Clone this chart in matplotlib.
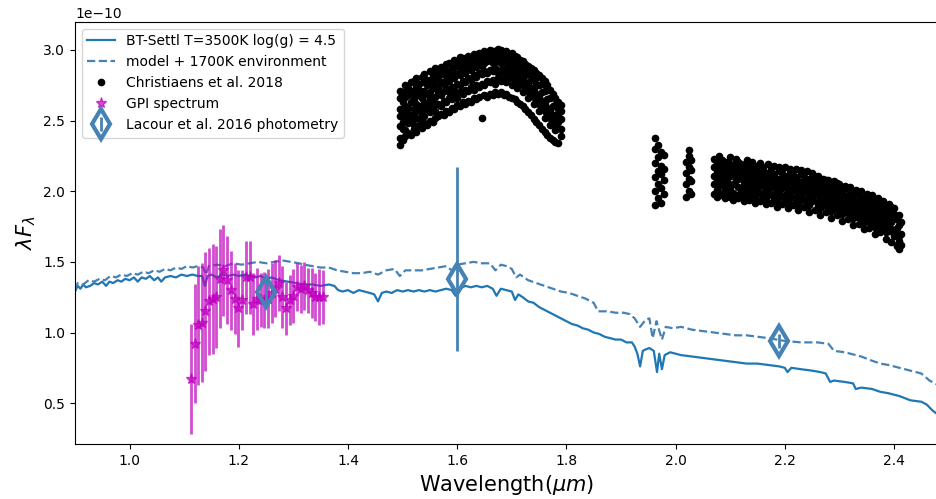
import matplotlib
matplotlib.use('Agg')
import matplotlib.pyplot as plt

# BT-Settl model spectrum (lambda F_lambda, units of 1e-10)
model_wl = [0.900, 0.905, 0.910, 0.915, 0.920, 0.928, 0.935, 0.942, 0.950, 0.957,
            0.963, 0.970, 0.978, 0.985, 0.992, 1.000, 1.008, 1.015, 1.022, 1.030,
            1.037, 1.045, 1.052, 1.058, 1.065, 1.075, 1.085, 1.095, 1.105, 1.115,
            1.125, 1.133, 1.138, 1.143, 1.150, 1.160, 1.170, 1.180, 1.190, 1.200,
            1.210, 1.220, 1.230, 1.240, 1.250, 1.260, 1.275, 1.290, 1.305, 1.320,
            1.335, 1.350, 1.365, 1.375, 1.382, 1.390, 1.400, 1.410, 1.420, 1.430,
            1.440, 1.448, 1.455, 1.462, 1.470, 1.480, 1.490, 1.500, 1.510, 1.520,
            1.530, 1.540, 1.550, 1.560, 1.570, 1.580, 1.590, 1.597, 1.605, 1.615,
            1.625, 1.635, 1.645, 1.655, 1.665, 1.672, 1.680, 1.690, 1.700, 1.706,
            1.712, 1.720, 1.730, 1.740, 1.750, 1.760, 1.770, 1.780, 1.790, 1.800,
            1.810, 1.820, 1.830, 1.840, 1.850, 1.860, 1.870, 1.880, 1.890, 1.900,
            1.910, 1.920, 1.925, 1.930, 1.935, 1.940, 1.945, 1.952, 1.960, 1.966,
            1.970, 1.975, 1.980, 1.990, 2.000, 2.010, 2.030, 2.050, 2.070, 2.090,
            2.110, 2.130, 2.150, 2.170, 2.190, 2.200, 2.205, 2.212, 2.230, 2.250,
            2.265, 2.275, 2.283, 2.290, 2.310, 2.325, 2.330, 2.340, 2.360, 2.375,
            2.390, 2.410, 2.430, 2.450, 2.460, 2.470, 2.480]
model_flux = [1.29, 1.33, 1.31, 1.34, 1.32, 1.33, 1.35, 1.34, 1.36, 1.33,
              1.36, 1.35, 1.37, 1.36, 1.38, 1.37, 1.39, 1.36, 1.39, 1.38,
              1.40, 1.37, 1.39, 1.36, 1.39, 1.40, 1.39, 1.41, 1.40, 1.41,
              1.40, 1.40, 1.33, 1.40, 1.41, 1.39, 1.41, 1.40, 1.41, 1.40,
              1.41, 1.40, 1.39, 1.40, 1.38, 1.39, 1.37, 1.36, 1.35, 1.34,
              1.34, 1.33, 1.34, 1.33, 1.30, 1.29, 1.30, 1.28, 1.30, 1.29,
              1.28, 1.27, 1.22, 1.28, 1.29, 1.28, 1.30, 1.29, 1.30, 1.29,
              1.30, 1.29, 1.30, 1.29, 1.30, 1.31, 1.30, 1.26, 1.31, 1.33,
              1.32, 1.33, 1.32, 1.33, 1.31, 1.26, 1.31, 1.30, 1.29, 1.23,
              1.27, 1.25, 1.22, 1.21, 1.18, 1.16, 1.14, 1.12, 1.10, 1.08,
              1.06, 1.05, 1.03, 1.02, 1.00, 0.99, 0.97, 0.96, 0.95, 0.95,
              0.93, 0.93, 0.90, 0.85, 0.76, 0.87, 0.88, 0.89, 0.87, 0.72,
              0.85, 0.74, 0.84, 0.86, 0.85, 0.84, 0.83, 0.82, 0.81, 0.80,
              0.79, 0.78, 0.78, 0.77, 0.76, 0.75, 0.72, 0.75, 0.74, 0.73,
              0.72, 0.71, 0.65, 0.66, 0.65, 0.64, 0.60, 0.61, 0.60, 0.58,
              0.57, 0.55, 0.52, 0.51, 0.49, 0.45, 0.42]

# model + 1700K environment
env_wl = [0.900, 0.905, 0.915, 0.925, 0.935, 0.945, 0.955, 0.965, 0.975, 0.985,
          0.995, 1.005, 1.015, 1.025, 1.035, 1.045, 1.055, 1.065, 1.075, 1.085,
          1.095, 1.105, 1.115, 1.125, 1.135, 1.140, 1.145, 1.160, 1.175, 1.190,
          1.205, 1.220, 1.235, 1.250, 1.265, 1.280, 1.295, 1.310, 1.320, 1.335,
          1.350, 1.365, 1.380, 1.395, 1.410, 1.425, 1.440, 1.455, 1.470, 1.485,
          1.495, 1.505, 1.520, 1.535, 1.550, 1.565, 1.580, 1.590, 1.600, 1.615,
          1.630, 1.645, 1.660, 1.670, 1.680, 1.690, 1.700, 1.708, 1.715, 1.730,
          1.745, 1.760, 1.775, 1.790, 1.805, 1.820, 1.835, 1.850, 1.858, 1.875,
          1.890, 1.905, 1.916, 1.925, 1.935, 1.945, 1.952, 1.958, 1.965, 1.975,
          1.982, 1.995, 2.010, 2.030, 2.050, 2.070, 2.090, 2.110, 2.130, 2.150,
          2.170, 2.200, 2.230, 2.260, 2.280, 2.290, 2.310, 2.340, 2.360, 2.375,
          2.390, 2.410, 2.430, 2.450, 2.465, 2.480]
env_flux = [1.30, 1.35, 1.34, 1.37, 1.36, 1.38, 1.37, 1.40, 1.39, 1.41,
            1.40, 1.42, 1.41, 1.43, 1.42, 1.44, 1.43, 1.45, 1.44, 1.46,
            1.45, 1.47, 1.46, 1.47, 1.46, 1.41, 1.47, 1.48, 1.47, 1.49,
            1.48, 1.49, 1.50, 1.49, 1.50, 1.51, 1.50, 1.49, 1.48, 1.47,
            1.46, 1.46, 1.44, 1.43, 1.42, 1.42, 1.43, 1.41, 1.44, 1.45,
            1.40, 1.44, 1.44, 1.44, 1.45, 1.46, 1.47, 1.44, 1.48, 1.49,
            1.50, 1.49, 1.49, 1.44, 1.48, 1.47, 1.45, 1.39, 1.41, 1.37,
            1.35, 1.33, 1.31, 1.29, 1.28, 1.26, 1.24, 1.21, 1.15, 1.15,
            1.14, 1.14, 1.13, 1.10, 1.04, 1.09, 1.10, 0.96, 1.08, 0.95,
            1.04, 1.03, 1.04, 1.02, 1.01, 1.00, 0.99, 0.98, 0.98, 0.97,
            0.96, 0.94, 0.93, 0.93, 0.92, 0.87, 0.86, 0.83, 0.80, 0.78,
            0.77, 0.75, 0.73, 0.71, 0.66, 0.63]

# Christiaens et al. 2018: wavelength rows, several flux samples per row
chr_h_wl = [1.495, 1.500, 1.505, 1.510, 1.515, 1.520, 1.525, 1.530, 1.535, 1.540,
            1.545, 1.550, 1.555, 1.560, 1.565, 1.570, 1.575, 1.580, 1.585, 1.590,
            1.595, 1.600, 1.605, 1.610, 1.615, 1.620, 1.625, 1.630, 1.635, 1.640,
            1.645, 1.650, 1.655, 1.660, 1.665, 1.670, 1.675, 1.680, 1.685, 1.690,
            1.695, 1.700, 1.705, 1.710, 1.715, 1.720, 1.725, 1.730, 1.735, 1.740,
            1.745, 1.750, 1.755, 1.760, 1.765, 1.770, 1.775, 1.780, 1.785, 1.790]
chr_h_flux = [
    [2.33, 2.38, 2.46, 2.53, 2.58, 2.66, 2.71], [2.36, 2.44, 2.49, 2.57, 2.63, 2.70],
    [2.39, 2.43, 2.52, 2.60, 2.67, 2.75], [2.41, 2.48, 2.55, 2.59, 2.68, 2.73],
    [2.40, 2.50, 2.54, 2.63, 2.71, 2.77], [2.44, 2.47, 2.58, 2.65, 2.69, 2.78],
    [2.42, 2.52, 2.57, 2.62, 2.74, 2.80], [2.46, 2.51, 2.60, 2.68, 2.72, 2.76],
    [2.45, 2.55, 2.59, 2.66, 2.70, 2.81], [2.48, 2.53, 2.63, 2.71, 2.77, 2.83],
    [2.47, 2.58, 2.62, 2.69, 2.75, 2.79], [2.50, 2.56, 2.66, 2.70, 2.79, 2.85],
    [2.49, 2.60, 2.64, 2.73, 2.77, 2.82], [2.52, 2.57, 2.67, 2.75, 2.81, 2.87],
    [2.53, 2.62, 2.70, 2.74, 2.80, 2.85], [2.55, 2.60, 2.68, 2.77, 2.83, 2.88],
    [2.54, 2.64, 2.71, 2.76, 2.86, 2.84], [2.57, 2.63, 2.73, 2.79, 2.82, 2.90],
    [2.56, 2.66, 2.70, 2.78, 2.85, 2.91], [2.59, 2.65, 2.74, 2.81, 2.88, 2.86],
    [2.58, 2.68, 2.72, 2.80, 2.84, 2.93], [2.61, 2.66, 2.76, 2.83, 2.89, 2.92],
    [2.60, 2.70, 2.75, 2.82, 2.87, 2.95], [2.63, 2.69, 2.78, 2.85, 2.90, 2.94],
    [2.62, 2.72, 2.77, 2.84, 2.92, 2.88], [2.64, 2.71, 2.80, 2.87, 2.91, 2.96],
    [2.63, 2.74, 2.79, 2.86, 2.94, 2.90], [2.66, 2.72, 2.82, 2.89, 2.93, 2.97],
    [2.65, 2.75, 2.81, 2.88, 2.95, 2.92], [2.67, 2.74, 2.84, 2.90, 2.94, 2.98],
    [2.52, 2.76, 2.83, 2.89, 2.96, 2.93], [2.68, 2.75, 2.85, 2.91, 2.95, 2.99],
    [2.67, 2.78, 2.84, 2.92, 2.97, 2.94], [2.69, 2.77, 2.86, 2.93, 2.98, 3.00],
    [2.68, 2.79, 2.85, 2.91, 2.96, 2.99], [2.70, 2.76, 2.87, 2.94, 2.99, 2.93],
    [2.69, 2.80, 2.84, 2.92, 2.97, 3.01], [2.70, 2.78, 2.86, 2.95, 3.00, 2.91],
    [2.68, 2.81, 2.85, 2.93, 2.98, 2.96], [2.69, 2.77, 2.87, 2.92, 2.99, 2.82],
    [2.67, 2.80, 2.84, 2.94, 2.97, 2.90], [2.66, 2.75, 2.86, 2.91, 2.98, 2.81],
    [2.65, 2.78, 2.83, 2.92, 2.96, 2.88], [2.63, 2.73, 2.82, 2.89, 2.95, 2.78],
    [2.62, 2.76, 2.80, 2.90, 2.93, 2.85], [2.60, 2.70, 2.79, 2.86, 2.92, 2.75],
    [2.58, 2.73, 2.77, 2.87, 2.90, 2.82], [2.56, 2.66, 2.76, 2.83, 2.89, 2.71],
    [2.54, 2.69, 2.73, 2.84, 2.87, 2.79], [2.51, 2.62, 2.72, 2.79, 2.86, 2.67],
    [2.49, 2.65, 2.69, 2.80, 2.84, 2.75], [2.47, 2.57, 2.67, 2.75, 2.82, 2.62],
    [2.44, 2.60, 2.64, 2.76, 2.80, 2.70], [2.42, 2.52, 2.62, 2.71, 2.78, 2.57],
    [2.40, 2.55, 2.59, 2.72, 2.75, 2.65], [2.38, 2.47, 2.57, 2.66, 2.72, 2.52],
    [2.36, 2.50, 2.54, 2.67, 2.69, 2.60], [2.35, 2.43, 2.52, 2.61, 2.66, 2.47],
    [2.34, 2.45, 2.49, 2.58, 2.63, 2.55], [2.39, 2.44, 2.51, 2.57, 2.61]]

chr_k_wl = [1.963, 1.968, 1.973, 1.978, 2.019, 2.024, 2.029,
            2.070, 2.075, 2.080, 2.085, 2.090, 2.095, 2.100, 2.105, 2.110, 2.115,
            2.120, 2.125, 2.130, 2.135, 2.140, 2.145, 2.150, 2.155, 2.160, 2.165,
            2.170, 2.175, 2.180, 2.185, 2.190, 2.195, 2.200, 2.205, 2.210, 2.215,
            2.220, 2.225, 2.230, 2.235, 2.240, 2.245, 2.250, 2.255, 2.260, 2.265,
            2.270, 2.275, 2.280, 2.285, 2.290, 2.295, 2.300, 2.305, 2.310, 2.315,
            2.320, 2.325, 2.330, 2.335, 2.340, 2.345, 2.350, 2.355, 2.360, 2.365,
            2.370, 2.375, 2.380, 2.385, 2.390, 2.395, 2.400, 2.405, 2.410, 2.413]
chr_k_flux = [
    [1.90, 2.00, 2.10, 2.20, 2.30, 2.38], [1.95, 2.05, 2.14, 2.24, 2.33], [1.92, 2.02, 2.12, 2.18, 2.28],
    [1.98, 2.08, 2.16, 2.26], [1.96, 2.05, 2.13, 2.21], [2.00, 2.09, 2.17, 2.25, 2.29],
    [1.98, 2.07, 2.15, 2.22],
    [1.98, 2.05, 2.11, 2.17, 2.23], [2.01, 2.08, 2.14, 2.20, 1.96], [1.99, 2.04, 2.13, 2.19, 2.25],
    [1.97, 2.07, 2.10, 2.16, 2.22], [2.00, 2.03, 2.12, 2.18, 1.95], [1.98, 2.06, 2.09, 2.15, 2.21],
    [1.96, 2.02, 2.11, 2.19, 2.24], [1.99, 2.05, 2.14, 2.17, 1.94], [1.97, 2.08, 2.12, 2.20, 2.23],
    [1.95, 2.03, 2.09, 2.16, 2.21], [1.98, 2.01, 2.11, 2.14, 2.19], [1.96, 2.05, 2.08, 2.18, 1.93],
    [1.99, 2.02, 2.12, 2.15, 2.22], [1.94, 2.04, 2.07, 2.13, 2.19], [1.97, 2.00, 2.10, 2.16, 2.21],
    [1.95, 2.03, 2.06, 2.12, 1.92], [1.98, 2.01, 2.09, 2.15, 2.18], [1.93, 2.04, 2.07, 2.11, 2.20],
    [1.96, 1.99, 2.08, 2.14, 2.17], [1.94, 2.02, 2.05, 2.10, 1.91], [1.97, 2.00, 2.07, 2.13, 2.19],
    [1.92, 2.03, 2.06, 2.11, 2.16], [1.95, 1.98, 2.08, 2.12, 2.18], [1.93, 2.01, 2.04, 2.09, 1.89],
    [1.96, 1.99, 2.06, 2.14, 2.17], [1.91, 2.02, 2.05, 2.10, 2.15], [1.94, 1.97, 2.07, 2.11, 2.17],
    [1.92, 2.00, 2.03, 2.08, 1.88], [1.95, 1.98, 2.05, 2.13, 2.16], [1.90, 2.01, 2.04, 2.09, 2.14],
    [1.93, 1.96, 2.06, 2.10, 2.16], [1.91, 1.99, 2.02, 2.07, 1.87], [1.94, 1.97, 2.04, 2.12, 2.15],
    [1.89, 2.00, 2.03, 2.08, 2.13], [1.92, 1.95, 2.05, 2.09, 2.14], [1.90, 1.98, 2.01, 2.06, 1.85],
    [1.93, 1.96, 2.03, 2.10, 2.13], [1.87, 1.98, 2.01, 2.06, 2.11], [1.90, 1.93, 2.02, 2.06, 2.11],
    [1.88, 1.95, 1.98, 2.03, 1.83], [1.90, 1.93, 2.00, 2.07, 2.09], [1.85, 1.95, 1.98, 2.03, 2.08],
    [1.88, 1.91, 2.00, 2.04, 2.08], [1.86, 1.93, 1.96, 2.01, 1.81], [1.88, 1.91, 1.98, 2.05, 2.07],
    [1.83, 1.93, 1.96, 2.01, 2.06], [1.85, 1.88, 1.97, 2.01, 2.05], [1.84, 1.91, 1.94, 1.99, 1.79],
    [1.85, 1.88, 1.95, 2.02, 2.04], [1.80, 1.89, 1.92, 1.97, 2.02], [1.83, 1.86, 1.95, 1.99, 2.03],
    [1.81, 1.88, 1.91, 1.96, 1.76], [1.82, 1.85, 1.92, 1.99, 2.01], [1.77, 1.86, 1.89, 1.94, 1.99],
    [1.80, 1.83, 1.92, 1.96, 2.00], [1.78, 1.85, 1.88, 1.93, 1.73], [1.79, 1.82, 1.89, 1.96, 1.98],
    [1.74, 1.83, 1.86, 1.91, 1.96], [1.77, 1.80, 1.89, 1.93, 1.97], [1.75, 1.82, 1.85, 1.90, 1.70],
    [1.76, 1.79, 1.86, 1.93, 1.95], [1.71, 1.80, 1.83, 1.88, 1.93], [1.73, 1.76, 1.85, 1.89, 1.93],
    [1.71, 1.78, 1.81, 1.86, 1.66], [1.72, 1.75, 1.82, 1.89, 1.91], [1.64, 1.73, 1.78, 1.84, 1.89],
    [1.68, 1.71, 1.80, 1.84, 1.88], [1.62, 1.69, 1.74, 1.80, 1.61], [1.65, 1.68, 1.76, 1.83, 1.59],
    [1.62, 1.70, 1.78]]

# GPI spectrum
gpi_wl = [1.112, 1.119, 1.125, 1.132, 1.139, 1.146, 1.152, 1.159, 1.166, 1.172,
          1.179, 1.186, 1.193, 1.199, 1.206, 1.213, 1.220, 1.226, 1.233, 1.240,
          1.246, 1.253, 1.260, 1.267, 1.273, 1.280, 1.287, 1.293, 1.300, 1.307,
          1.314, 1.320, 1.327, 1.334, 1.340, 1.347, 1.354]
gpi_flux = [0.67, 0.92, 1.05, 1.07, 1.15, 1.22, 1.24, 1.25, 1.38, 1.44,
            1.37, 1.30, 1.24, 1.17, 1.23, 1.39, 1.39, 1.20, 1.24, 1.23,
            1.23, 1.24, 1.28, 1.31, 1.35, 1.25, 1.17, 1.23, 1.26, 1.32,
            1.31, 1.33, 1.30, 1.28, 1.25, 1.25, 1.25]
gpi_err = [0.39, 0.42, 0.42, 0.42, 0.42, 0.38, 0.39, 0.36, 0.35, 0.32,
           0.31, 0.28, 0.25, 0.27, 0.21, 0.26, 0.26, 0.22, 0.22, 0.19,
           0.20, 0.21, 0.21, 0.20, 0.20, 0.22, 0.19, 0.18, 0.19, 0.17,
           0.17, 0.17, 0.16, 0.18, 0.17, 0.20, 0.19]

# Lacour et al. 2016 photometry
lac_wl = [1.25, 1.60, 2.19]
lac_flux = [1.29, 1.38, 0.94]
lac_err_lo = [0.10, 0.51, 0.05]
lac_err_hi = [0.10, 0.79, 0.05]

y_ticks = [0.5, 1.0, 1.5, 2.0, 2.5, 3.0]

scale = 1e-10

fig = plt.figure(figsize=(9.36, 4.99), dpi=100)
ax = fig.add_axes([0.0801, 0.110, 0.9217, 0.8465])

ax.plot(model_wl, [f * scale for f in model_flux], '-', color='#1f77b4', lw=1.6,
        label='BT-Settl T=3500K log(g) = 4.5')
ax.plot(env_wl, [f * scale for f in env_flux], '--', color='steelblue', lw=1.6,
        label='model + 1700K environment')

# expand rows of Christiaens samples
cx, cy = [], []
for w, fs in list(zip(chr_h_wl, chr_h_flux)) + list(zip(chr_k_wl, chr_k_flux)):
    for f in fs:
        cx.append(w)
        cy.append(f * scale)
ax.plot(cx, cy, 'o', color='k', ms=4.5, mew=1, ls='none', label='Christiaens et al. 2018')

ax.errorbar(gpi_wl, [f * scale for f in gpi_flux], yerr=[e * scale for e in gpi_err],
            fmt='none', ecolor='m', elinewidth=2, alpha=0.7)
ax.plot(gpi_wl, [f * scale for f in gpi_flux], '*', color='m', ms=8, alpha=0.7,
        ls='none', label='GPI spectrum')

ax.errorbar(lac_wl, [f * scale for f in lac_flux],
            yerr=[[e * scale for e in lac_err_lo], [e * scale for e in lac_err_hi]],
            fmt='d', color='steelblue', ms=15, mfc='none', mew=3, elinewidth=2,
            label='Lacour et al. 2016 photometry')

ax.set_xlim(0.9, 2.48)
ax.set_ylim(0.21e-10, 3.2e-10)
ax.set_yticks([t * scale for t in y_ticks])
ax.set_xlabel(r'Wavelength($\mu m$)', fontsize=15)
ax.set_ylabel(r'$\lambda F_\lambda$', fontsize=15)
ax.legend(loc='upper left', fontsize=10)

fig.savefig('out.png', dpi=100)
